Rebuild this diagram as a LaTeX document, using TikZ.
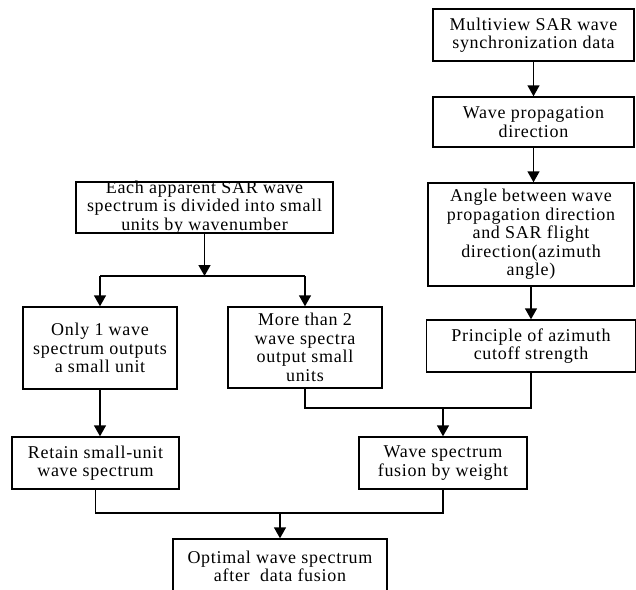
\documentclass[tikz,border=0pt]{standalone}
\usepackage{fontspec}
\setmainfont{Liberation Serif}[LetterSpace=4]
\usetikzlibrary{arrows.meta}
\begin{document}
\begin{tikzpicture}[x=1pt,y=-1pt,
  box/.style={draw, line width=1.4pt, rectangle, inner sep=0pt},
  txt/.style={inner sep=0pt, align=center, font=\fontsize{18}{18.5}\selectfont},
  conn/.style={line width=1.4pt, line join=miter},
  arr/.style={conn, -{Triangle[length=11pt,width=12pt]}}]
\useasboundingbox (0,0) rectangle (636,589);
\node[box, minimum width=201pt, minimum height=52pt] (multi) at (533.5,35) {};
\node[txt] (multi-t) at (multi) {Multiview SAR wave\\synchronization data};
\node[box, minimum width=201pt, minimum height=50pt] (prop) at (533.5,122) {};
\node[txt] (prop-t) at (prop) {Wave propagation\\direction};
\node[box, minimum width=206pt, minimum height=103pt] (angle) at (531,234.5) {};
\node[txt] (angle-t) at (angle) {Angle between wave\\propagation direction\\and SAR flight\\direction(azimuth\\angle)};
\node[box, minimum width=209pt, minimum height=52pt] (princ) at (531,346) {};
\node[txt] (princ-t) at (princ) {Principle of azimuth\\cutoff strength};
\node[box, minimum width=257pt, minimum height=51pt] (each) at (204.5,207.5) {};
\node[txt] (each-t) at (each) {Each apparent SAR wave\\spectrum is divided into small\\units by wavenumber};
\node[box, minimum width=154pt, minimum height=82pt] (only) at (100,348) {};
\node[txt] (only-t) at (only) {Only 1 wave\\spectrum outputs\\a small unit};
\node[box, minimum width=154pt, minimum height=81pt] (more) at (305,347.5) {};
\node[txt] (more-t) at (more) {More than 2\\wave spectra\\output small\\units};
\node[box, minimum width=167pt, minimum height=52pt] (retain) at (95.5,463) {};
\node[txt] (retain-t) at (retain) {Retain small-unit\\wave spectrum};
\node[box, minimum width=168pt, minimum height=52pt] (fusion) at (443,463) {};
\node[txt] (fusion-t) at (fusion) {Wave spectrum\\fusion by weight};
\node[box, minimum width=214pt, minimum height=55pt] (optimal) at (280,566.5) {};
\node[txt] (optimal-t) at (optimal) {Optimal wave spectrum\\after~ data fusion};
% right column
\draw[arr] (multi.south) -- (multi.south |- prop.north);
\draw[arr] (prop.south) -- (prop.south |- angle.north);
\draw[arr] (angle.south) -- (angle.south |- princ.north);
% split
\coordinate (s1) at (204.5,276);
\draw[arr] (each.south) -- (s1);
\draw[conn] (only.north |- s1) -- (more.north |- s1);
\draw[arr] (only.north |- s1) -- (only.north);
\draw[arr] (more.north |- s1) -- (more.north);
\draw[arr] (only.south) -- (only.south |- retain.north);
% merge to fusion
\coordinate (j1) at (443,408);
\draw[conn] (more.south) |- (j1) -| (princ.south);
\draw[arr] (j1) -- (fusion.north);
% merge to optimal
\coordinate (j2) at (280,513);
\draw[conn] (retain.south) |- (j2) -| (fusion.south);
\draw[arr] (j2) -- (optimal.north);
\end{tikzpicture}
\end{document}
